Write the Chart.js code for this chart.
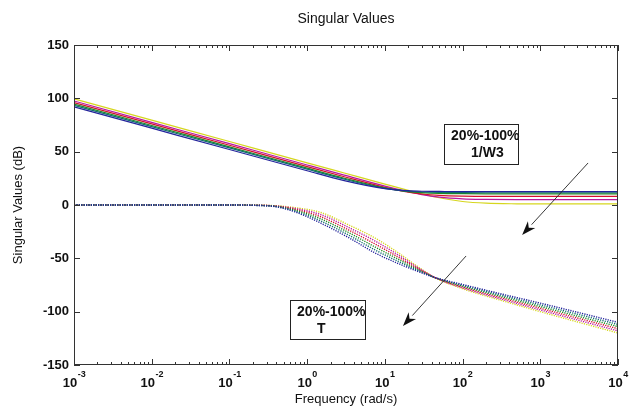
<!DOCTYPE html>
<html>
<head>
<meta charset="utf-8">
<script src="https://cdn.jsdelivr.net/npm/chart.js@4"></script>
<style>
  html, body { margin: 0; padding: 0; background: #fff; }
  canvas { display: block; }
</style>
</head>
<body>
<canvas id="svChart" width="631" height="412"></canvas>
<script>
// 1/W3 curves (solid), dB against frequency in rad/s
const freqW3 = [0.001, 0.01, 0.1, 1, 3, 10, 20, 30, 50, 100, 200, 500, 1000, 10000];
const w3Yellow  = [99.5, 79.5, 59.5, 39.5, 30.0, 19.6, 13.7, 10.5, 6.8, 3.3, 1.7, 1.1, 1.0, 1.0];
const w3Magenta = [97.5, 77.5, 57.5, 37.5, 28.0, 17.7, 12.4, 9.7, 7.3, 5.7, 5.2, 5.0, 5.0, 5.0];
const w3Red     = [96.0, 76.0, 56.0, 36.0, 26.5, 16.6, 12.1, 10.3, 9.0, 8.3, 8.1, 8.0, 8.0, 8.0];
const w3Green   = [94.5, 74.5, 54.5, 34.5, 25.1, 16.0, 12.6, 11.6, 10.9, 10.6, 10.5, 10.5, 10.5, 10.5];
const w3Teal    = [93.5, 73.5, 53.5, 33.6, 24.2, 15.6, 12.9, 12.2, 11.8, 11.6, 11.5, 11.5, 11.5, 11.5];
const w3Blue    = [92.0, 72.0, 52.0, 32.1, 22.9, 15.3, 13.4, 12.9, 12.7, 12.5, 12.5, 12.5, 12.5, 12.5];

// T curves (dotted)
const freqT = [0.001, 0.1, 0.2, 0.4, 0.7, 1.5, 3.5, 7.5, 15, 25, 44, 100, 300, 1000, 10000];
const tYellow  = [0, 0, -0.1, -0.7, -2.5, -7, -19, -31, -45, -56.5, -68, -78.5, -89, -100, -120];
const tMagenta = [0, 0, -0.1, -0.9, -3.3, -9, -21.4, -33.8, -47, -57.5, -68, -77.7, -87.8, -98.4, -118];
const tRed     = [0, 0, -0.2, -1.1, -4.1, -11, -23.8, -36.6, -49, -58.5, -68, -76.9, -86.6, -96.8, -116];
const tGreen   = [0, 0, -0.2, -1.3, -4.9, -13, -26.2, -39.4, -51, -59.5, -68, -76.1, -85.4, -95.2, -114];
const tTeal    = [0, 0, -0.3, -1.5, -5.7, -15, -28.6, -42.2, -53, -60.5, -68, -75.3, -84.2, -93.6, -112];
const tBlue    = [0, 0, -0.3, -1.7, -6.5, -17, -31, -45, -55, -61.5, -68, -74.5, -83, -92, -110];

// first entry is drawn on top by Chart.js
const seriesColors = ['#23239c', '#0f6e6e', '#1f8a1f', '#d2102c', '#b8179f', '#d6d61e'];
const w3Series = [w3Blue, w3Teal, w3Green, w3Red, w3Magenta, w3Yellow];
const tSeries = [tBlue, tTeal, tGreen, tRed, tMagenta, tYellow];

// axis ticks
const xDecades = [0.001, 0.01, 0.1, 1, 10, 100, 1000, 10000];
const xExponents = ['-3', '-2', '-1', '0', '1', '2', '3', '4'];
const yTicks = [-150, -100, -50, 0, 50, 100, 150];

// text boxes with arrows, in data units (freq, dB)
const notes = [
  { lines: ['20%-100%', '1/W3'], box: [57.8, 517, 75.9, 38.4], arrow: [4120, 39.4, 584, -28.1] },
  { lines: ['20%-100%', 'T'], box: [0.603, 5.56, -89.1, -125.6], arrow: [111, -47.8, 17.1, -113.4] }
];

const FONT = "'Liberation Sans', Arial, Helvetica, sans-serif";

function toPoints(xs, ys) {
  return xs.map((x, i) => ({ x: x, y: ys[i] }));
}

const datasets = [];
tSeries.forEach((s, i) => {
  datasets.push({
    data: toPoints(freqT, s),
    borderColor: seriesColors[i],
    borderWidth: 1.4,
    borderDash: [1.2, 1.2],
    cubicInterpolationMode: 'monotone'
  });
});
w3Series.forEach((s, i) => {
  datasets.push({
    data: toPoints(freqW3, s),
    borderColor: seriesColors[i],
    borderWidth: 1.2,
    cubicInterpolationMode: 'monotone'
  });
});

const frame = {
  id: 'frame',
  afterDraw(chart) {
    const ctx = chart.ctx;
    const a = chart.chartArea;
    const xs = chart.scales.x, ys = chart.scales.y;
    ctx.save();
    ctx.strokeStyle = '#333';
    ctx.lineWidth = 1;
    ctx.strokeRect(a.left + 0.5, a.top + 0.5, a.right - a.left - 1, a.bottom - a.top - 1);

    // x ticks, inward on top and bottom
    ctx.beginPath();
    xDecades.forEach((d, i) => {
      const px = Math.round(xs.getPixelForValue(d)) + 0.5;
      ctx.moveTo(px, a.bottom); ctx.lineTo(px, a.bottom - 6);
      ctx.moveTo(px, a.top); ctx.lineTo(px, a.top + 6);
      if (i < xDecades.length - 1) {
        for (let m = 2; m <= 9; m++) {
          const mx = Math.round(xs.getPixelForValue(d * m)) + 0.5;
          ctx.moveTo(mx, a.bottom); ctx.lineTo(mx, a.bottom - 3);
          ctx.moveTo(mx, a.top); ctx.lineTo(mx, a.top + 3);
        }
      }
    });
    yTicks.forEach(v => {
      const py = Math.round(ys.getPixelForValue(v)) + 0.5;
      ctx.moveTo(a.left, py); ctx.lineTo(a.left + 6, py);
      ctx.moveTo(a.right, py); ctx.lineTo(a.right - 6, py);
    });
    ctx.stroke();

    // tick labels
    ctx.fillStyle = '#111';
    ctx.font = 'bold 13px ' + FONT;
    ctx.textAlign = 'right';
    ctx.textBaseline = 'middle';
    yTicks.forEach(v => {
      ctx.fillText(String(v), a.left - 5, ys.getPixelForValue(v));
    });
    ctx.textAlign = 'left';
    xDecades.forEach((d, i) => {
      const px = xs.getPixelForValue(d);
      ctx.font = 'bold 13px ' + FONT;
      const wb = ctx.measureText('10').width;
      ctx.font = 'bold 9px ' + FONT;
      const we = ctx.measureText(xExponents[i]).width;
      const x0 = px - (wb + we) / 2;
      ctx.font = 'bold 13px ' + FONT;
      ctx.fillText('10', x0, a.bottom + 18);
      ctx.font = 'bold 9px ' + FONT;
      ctx.fillText(xExponents[i], x0 + wb + 0.5, a.bottom + 10);
    });

    // titles
    ctx.textAlign = 'center';
    ctx.font = '14px ' + FONT;
    ctx.fillText('Singular Values', (a.left + a.right) / 2, 19);
    ctx.font = '13px ' + FONT;
    ctx.fillText('Frequency (rad/s)', (a.left + a.right) / 2, 399);
    ctx.save();
    ctx.translate(18, (a.top + a.bottom) / 2);
    ctx.rotate(-Math.PI / 2);
    ctx.fillText('Singular Values (dB)', 0, 0);
    ctx.restore();

    // annotation boxes and arrows
    notes.forEach(n => {
      const bx0 = xs.getPixelForValue(n.box[0]), bx1 = xs.getPixelForValue(n.box[1]);
      const by0 = ys.getPixelForValue(n.box[2]), by1 = ys.getPixelForValue(n.box[3]);
      ctx.strokeStyle = '#222';
      ctx.lineWidth = 1;
      ctx.strokeRect(Math.round(bx0) + 0.5, Math.round(by0) + 0.5, Math.round(bx1 - bx0), Math.round(by1 - by0));
      ctx.fillStyle = '#111';
      ctx.font = 'bold 14px ' + FONT;
      ctx.textAlign = 'left';
      ctx.fillText(n.lines[0], bx0 + 7, by0 + 12);
      ctx.fillText(n.lines[1], bx0 + 27, by0 + 29);

      const x1 = xs.getPixelForValue(n.arrow[0]), y1 = ys.getPixelForValue(n.arrow[1]);
      const x2 = xs.getPixelForValue(n.arrow[2]), y2 = ys.getPixelForValue(n.arrow[3]);
      const ang = Math.atan2(y2 - y1, x2 - x1);
      const len = 14, half = 5;
      const bxp = x2 - len * Math.cos(ang), byp = y2 - len * Math.sin(ang);
      ctx.beginPath();
      ctx.moveTo(x1, y1);
      ctx.lineTo(bxp, byp);
      ctx.lineWidth = 0.9;
      ctx.stroke();
      const nx = -Math.sin(ang), ny = Math.cos(ang);
      ctx.beginPath();
      ctx.moveTo(x2, y2);
      ctx.lineTo(bxp + nx * half, byp + ny * half);
      ctx.lineTo(x2 - len * 0.7 * Math.cos(ang), y2 - len * 0.7 * Math.sin(ang));
      ctx.lineTo(bxp - nx * half, byp - ny * half);
      ctx.closePath();
      ctx.fill();
    });
    ctx.restore();
  }
};

new Chart(document.getElementById('svChart'), {
  type: 'line',
  data: { datasets: datasets },
  options: {
    responsive: false,
    animation: false,
    layout: { padding: { left: 74, right: 13, top: 45, bottom: 47 } },
    elements: { point: { radius: 0 } },
    scales: {
      x: { type: 'logarithmic', min: 0.001, max: 10000, display: false },
      y: { type: 'linear', min: -150, max: 150, display: false }
    },
    plugins: {
      legend: { display: false },
      tooltip: { enabled: false }
    }
  },
  plugins: [frame]
});
</script>
</body>
</html>
